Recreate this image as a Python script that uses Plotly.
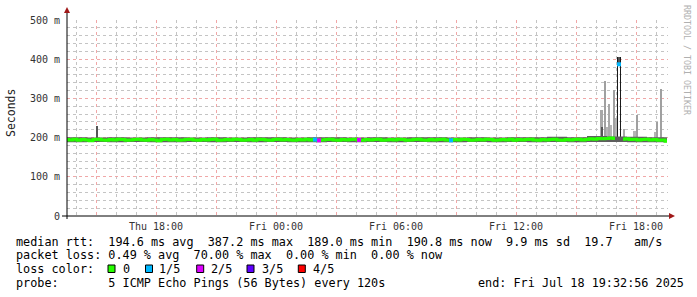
import plotly.graph_objects as go
from datetime import datetime, timedelta

# ---------------- data ----------------
start = datetime(2025, 7, 17, 13, 32, 56)
step_minutes = 12

median_ms = [
    195, 194, 196, 193, 195, 194, 192, 195, 196, 194, 193, 195, 194, 196, 195,
    193, 194, 195, 196, 194, 193, 195, 194, 192, 195, 196, 194, 195, 193, 194,
    195, 196, 194, 193, 195, 194, 195, 196, 193, 194, 195, 194, 196, 195, 193,
    194, 195, 193, 196, 195, 194, 193, 195, 196, 194, 195, 194, 193, 195, 194,
    196, 194, 195, 193, 194, 195, 196, 194, 193, 195, 194, 195, 196, 194, 193,
    195, 194, 195, 196, 193, 194, 195, 194, 196, 195, 193, 194, 195, 196, 194,
    193, 195, 194, 195, 196, 194, 193, 195, 194, 196, 195, 193, 194, 195, 194,
    196, 195, 193, 194, 195, 194, 196, 193, 195, 194, 195, 196, 194, 193, 195,
    194, 195, 196, 194, 193, 195, 194, 195, 196, 194, 195, 197, 196, 198, 197,
    198, 199, 198, 387, 196, 197, 195, 196, 194, 195, 196, 194, 195, 193, 194, 191,
]

loss_index = [62, 63, 73, 96, 138]
loss_fifths = [1, 2, 2, 1, 1]

smoke_lo = [188, 189, 188, 189, 188, 188, 189, 188, 189, 188, 189, 188, 188, 189, 188, 189,
            188, 189, 188, 188, 189, 188, 189, 188, 189, 188, 189, 189, 188, 188, 187]
smoke_hi = [201, 200, 201, 200, 201, 201, 200, 201, 200, 201, 201, 200, 201, 201, 200, 201,
            200, 201, 201, 200, 201, 200, 201, 201, 202, 201, 204, 203, 202, 201, 200]

spike_times = ["2025-07-17 15:03:00", "2025-07-18 15:57:00", "2025-07-18 16:16:30",
               "2025-07-18 16:19:30", "2025-07-18 16:27:00", "2025-07-18 16:34:30",
               "2025-07-18 16:38:06", "2025-07-18 16:45:00", "2025-07-18 16:52:30",
               "2025-07-18 16:58:30", "2025-07-18 17:04:30", "2025-07-18 17:09:00",
               "2025-07-18 17:13:30", "2025-07-18 17:24:00", "2025-07-18 17:55:30",
               "2025-07-18 18:03:00", "2025-07-18 19:00:00", "2025-07-18 19:03:00",
               "2025-07-18 19:15:00"]
spike_lo = [196, 197, 197, 195, 197, 197, 197, 197, 197, 197, 196, 388, 196, 197, 197, 197, 197, 197, 197]
spike_hi = [230, 205, 270, 228, 344, 226, 285, 232, 321, 250, 405, 405, 405, 222, 216, 258, 215, 240, 323]

y_tickvals = [0, 100, 200, 300, 400, 500]
y_ticktext = ["0", "100 m", "200 m", "300 m", "400 m", "500 m"]

x_tickvals = ["2025-07-17 15:00", "2025-07-17 18:00", "2025-07-17 21:00", "2025-07-18 00:00",
              "2025-07-18 03:00", "2025-07-18 06:00", "2025-07-18 09:00", "2025-07-18 12:00",
              "2025-07-18 15:00", "2025-07-18 18:00"]
x_ticktext = ["", "Thu 18:00", "", "Fri 00:00", "", "Fri 06:00", "", "Fri 12:00", "", "Fri 18:00"]

legend_labels = ["0", "1/5", "2/5", "3/5", "4/5"]
loss_colors = ["#26ff00", "#00b8ff", "#dd00ff", "#5e00ff", "#ff0000"]

line1 = "median rtt:  194.6 ms avg  387.2 ms max  189.0 ms min  190.8 ms now  9.9 ms sd  19.7   am/s"
line2 = "packet loss: 0.49 % avg  70.00 % max  0.00 % min  0.00 % now"
line3 = "loss color:"
line4 = "probe:       5 ICMP Echo Pings (56 Bytes) every 120s"
end_text = "end: Fri Jul 18 19:32:56 2025"

# ---------------- styles ----------------
spike_px = [1, 2, 3, 1.5, 1.3, 3, 1, 2, 2, 2, 1, 2, 1, 2, 3, 1, 4, 1, 1]
spike_shade = ["#555555", "#b4b4b4", "#a8a8a8", "#555555", "#a0a0a0", "#b4b4b4", "#a8a8a8",
               "#b4b4b4", "#a0a0a0", "#b4b4b4", "#1a1a1a", "#555555", "#1a1a1a", "#a8a8a8",
               "#b4b4b4", "#a0a0a0", "#b4b4b4", "#a0a0a0", "#a0a0a0"]

W, H = 697, 297
PL, PR, PT, PB = 67, 668, 20, 216
MS_PER_PX = 180000  # 3 minutes per pixel


def nb(s):
    return s.replace(" ", "\u00a0")


def px(x):
    return (x - PL) / (PR - PL)


def py(y):
    return (PB - y) / (PB - PT)


times = [start + timedelta(minutes=step_minutes * i) for i in range(len(median_ms))]
smoke_times = [start + timedelta(hours=h) for h in range(len(smoke_lo))]

fig = go.Figure()

# spikes of smoke
fig.add_trace(go.Bar(
    x=spike_times, y=[h - l for h, l in zip(spike_hi, spike_lo)], base=spike_lo,
    width=[w * MS_PER_PX for w in spike_px], marker=dict(color=spike_shade, line=dict(width=0)),
    hoverinfo="skip", showlegend=False))

# smoke band
fig.add_trace(go.Scatter(x=smoke_times, y=smoke_lo, mode="lines", line=dict(width=0, shape="hv"),
                         hoverinfo="skip", showlegend=False))
fig.add_trace(go.Scatter(x=smoke_times, y=smoke_hi, mode="lines", line=dict(width=0, shape="hv"),
                         fill="tonexty", fillcolor="#5e5e5e", hoverinfo="skip", showlegend=False))

# median line (green), spike point left out (drawn with loss colour)
median_plot = [None if i in loss_index and v > 300 else v for i, v in enumerate(median_ms)]
fig.add_trace(go.Scatter(x=times, y=median_plot, mode="lines", connectgaps=False,
                         line=dict(color=loss_colors[0], width=3, shape="hvh"),
                         hoverinfo="skip", showlegend=False))

# loss-coloured median points
fig.add_trace(go.Scatter(
    x=[times[i] for i in loss_index], y=[median_ms[i] for i in loss_index], mode="markers",
    marker=dict(symbol="square", size=4, color=[loss_colors[f] for f in loss_fifths], line=dict(width=0)),
    hoverinfo="skip", showlegend=False))

grid_major = "#f0a8a8"
grid_minor = "#c4c4c4"
tick_font = dict(family="DejaVu Sans Mono", size=10, color="#333333")

fig.update_layout(
    width=W, height=H, template="none",
    paper_bgcolor="white", plot_bgcolor="white",
    margin=dict(l=PL, r=W - PR, t=PT, b=H - PB),
    barmode="overlay", bargap=0, showlegend=False,
    font=dict(family="DejaVu Sans Mono", size=11.8, color="#000000"),
    xaxis=dict(
        type="date",
        range=["2025-07-17 13:33:00", "2025-07-18 19:36:00"],
        tickmode="array", tickvals=x_tickvals, ticktext=x_ticktext,
        showgrid=True, gridcolor=grid_major, griddash="dot", gridwidth=1,
        minor=dict(dtick=3600000, tick0="2025-07-17 00:00", showgrid=True,
                   gridcolor=grid_minor, griddash="dot", gridwidth=1),
        showline=False, zeroline=False, ticks="", tickfont=tick_font,
        ticklabelstandoff=3,
    ),
    yaxis=dict(
        range=[0, 500],
        tickmode="array", tickvals=y_tickvals, ticktext=y_ticktext,
        showgrid=True, gridcolor=grid_major, griddash="dot", gridwidth=1,
        minor=dict(dtick=20, tick0=0, showgrid=True,
                   gridcolor=grid_minor, griddash="dot", gridwidth=1),
        showline=False, zeroline=False, ticks="", tickfont=tick_font,
        ticklabelstandoff=6,
    ),
)

shapes = []
# axis lines
shapes.append(dict(type="line", xref="paper", yref="paper", x0=px(62), x1=px(669), y0=py(216), y1=py(216),
                   line=dict(color="#000000", width=1)))
shapes.append(dict(type="line", xref="paper", yref="paper", x0=px(67), x1=px(67), y0=py(219), y1=py(11),
                   line=dict(color="#000000", width=1)))
# arrows
arrow_col = "#a01818"
shapes.append(dict(type="path", xref="paper", yref="paper",
                   path=f"M {px(67)} {py(7)} L {px(64)} {py(13)} L {px(70)} {py(13)} Z",
                   fillcolor=arrow_col, line=dict(width=0)))
shapes.append(dict(type="path", xref="paper", yref="paper",
                   path=f"M {px(675)} {py(216)} L {px(669)} {py(213)} L {px(669)} {py(219)} Z",
                   fillcolor=arrow_col, line=dict(width=0)))
# legend boxes
box_centers = [111.5, 149, 200.2, 250.5, 301.8]
label_x = [122.5, 159, 211, 261.7, 312.7]
for cx, col in zip(box_centers, loss_colors):
    shapes.append(dict(type="rect", xref="paper", yref="paper",
                       x0=px(cx - 3.5), x1=px(cx + 3.5), y0=py(265), y1=py(272.5),
                       fillcolor=col, line=dict(color="#000000", width=1)))
fig.update_layout(shapes=shapes)

ann = []
legend_font = dict(family="DejaVu Sans Mono", size=11.8, color="#000000")
rows_y = [241.5, 255.3, 269, 282.7]
for txt, yy in zip([line1, line2, line3, line4], rows_y):
    ann.append(dict(text=nb(txt), x=px(15), y=py(yy), xref="paper", yref="paper",
                    xanchor="left", yanchor="middle", showarrow=False, font=legend_font, borderpad=0))
for lx, lab in zip(label_x, legend_labels):
    ann.append(dict(text=lab, x=px(lx - 1), y=py(rows_y[2]), xref="paper", yref="paper",
                    xanchor="left", yanchor="middle", showarrow=False, font=legend_font, borderpad=0))
ann.append(dict(text=nb(end_text), x=px(477), y=py(rows_y[3]), xref="paper", yref="paper",
                xanchor="left", yanchor="middle", showarrow=False, font=legend_font, borderpad=0))
ann.append(dict(text="Seconds", x=px(11), y=py(113), xref="paper", yref="paper", textangle=-90,
                xanchor="center", yanchor="middle", showarrow=False,
                font=dict(family="DejaVu Sans Mono", size=11.5, color="#222222")))
ann.append(dict(text=nb("RRDTOOL / TOBI OETIKER"), x=px(687), y=py(60), xref="paper", yref="paper",
                textangle=90, xanchor="center", yanchor="middle", showarrow=False,
                font=dict(family="DejaVu Sans Mono", size=8.3, color="#b0b0b0")))
fig.update_layout(annotations=ann)

fig.write_html("out.html")
